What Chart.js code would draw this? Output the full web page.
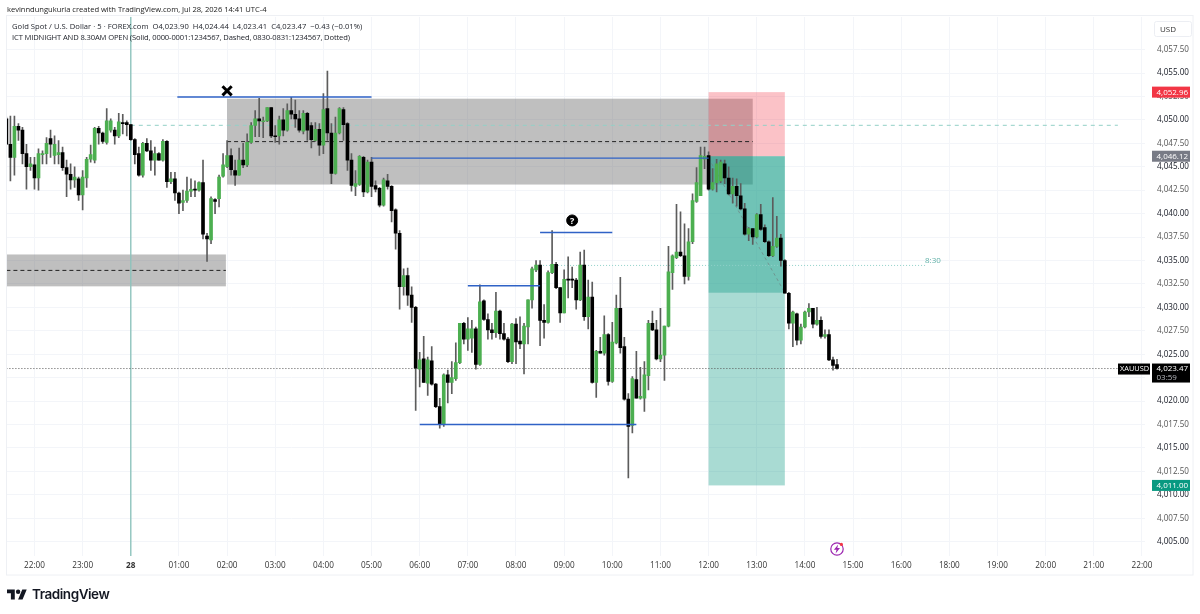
<!DOCTYPE html>
<html>
<head>
<meta charset="utf-8">
<title>XAUUSD 5m</title>
<script src="https://cdn.jsdelivr.net/npm/chart.js@4"></script>
<style>
  html, body { margin: 0; padding: 0; background: #fff; width: 1200px; height: 614px; overflow: hidden; }
  canvas { position: absolute; left: 0; top: 0; }
  .txt { position: absolute; white-space: pre; font-family: "Open Sans", sans-serif; color: #1c1f27; }
  svg { position: absolute; }
</style>
</head>
<body>
<canvas id="gold" width="1200" height="614"></canvas>
<div class="txt" style="left:7px;top:4px;font-size:7.6px;letter-spacing:-.03px;color:#222">kevinndungukuria created with TradingView.com, Jul 28, 2026 14:41 UTC-4</div>
<div class="txt" style="left:12px;top:21px;font-size:7.6px;letter-spacing:.04px">Gold Spot / U.S. Dollar · 5 · FOREX.com  O4,023.90  H4,024.44  L4,023.41  C4,023.47  −0.43 (−0.01%)</div>
<div class="txt" style="left:12px;top:32px;font-size:7.6px;letter-spacing:-.13px">ICT MIDNIGHT AND 8.30AM OPEN (Solid, 0000-0001:1234567, Dashed, 0830-0831:1234567, Dotted)</div>
<svg style="left:7px;top:587px" width="20" height="16" viewBox="0 0 36 28"><path fill="#131722" d="M14 22H7V11H0V4h14v18zM28 22h-8l7.5-18h8L28 22z"/><circle fill="#131722" cx="20" cy="8" r="4"/></svg>
<div class="txt" style="left:32px;top:586px;font-family:Inter,sans-serif;font-weight:600;font-size:13.5px;letter-spacing:-.45px;color:#131722">TradingView</div>
<svg style="left:829px;top:541px" width="16" height="16" viewBox="0 0 16 16"><circle cx="8" cy="8" r="6.2" fill="#fff" stroke="#9c27b0" stroke-width="1.2"/><path fill="#9c27b0" d="M9.2 3.4 4.9 8.8h2.6L6.6 12.6l4.4-5.5H8.3z"/><circle cx="12.4" cy="3.4" r="1.6" fill="#f23645"/></svg>
<script>
// candles, 5 min each. index 0 is the 22:00 bar
const firstBar = -7;
const opens = [
4050.1,4047.4,4046.0,4049.3,4048.9,4046.4,4045.0,4045.2,4043.8,4046.3,
4046.4,4048.0,4046.2,4046.3,4046.5,4044.9,4044.2,4043.6,4043.7,4042.0,
4043.8,4045.8,4045.7,4049.1,4048.6,4047.6,4048.9,4048.9,4048.3,4049.7,
4049.7,4049.5,4047.9,4046.4,4044.1,4047.5,4046.7,4045.7,4046.4,4045.7,
4047.7,4043.4,4043.7,4042.2,4041.2,4041.4,4042.4,4042.6,4042.5,4043.3,
4037.6,4037.2,4041.5,4041.6,4044.0,4045.0,4046.2,4044.6,4044.1,4045.7,
4045.2,4047.6,4049.4,4050.1,4049.8,4049.9,4051.3,4048.3,4048.3,4050.0,
4048.9,4051.0,4050.6,4050.1,4048.8,4050.7,4049.4,4047.8,4049.0,4047.3,
4051.2,4048.6,4044.3,4048.6,4051.1,4049.6,4045.7,4042.9,4043.1,4046.0,
4042.3,4045.5,4043.0,4042.7,4040.9,4043.5,4042.9,4040.4,4037.9,4032.2,
4033.4,4031.3,4030.0,4023.4,4024.5,4021.9,4024.3,4021.8,4019.4,4017.5,
4022.8,4022.0,4022.4,4024.1,4028.3,4026.6,4026.7,4027.7,4023.9,4030.7,
4028.7,4027.6,4027.3,4029.6,4027.2,4026.6,4024.2,4028.2,4026.4,4026.1,
4027.9,4030.8,4034.0,4034.5,4028.6,4028.4,4033.7,4034.6,4032.1,4029.4,
4033.0,4032.9,4032.9,4030.8,4034.5,4029.0,4031.1,4022.0,4025.3,4025.1,
4027.1,4022.1,4026.2,4029.9,4025.8,4020.2,4017.4,4022.3,4020.3,4020.3,
4022.7,4028.3,4027.6,4024.5,4024.9,4028.0,4033.7,4035.3,4035.9,4035.5,
4033.3,4037.0,4041.3,4041.9,4045.8,4046.2,4042.6,4043.3,4043.5,4045.3,
4043.8,4042.1,4042.9,4041.9,4040.5,4037.8,4038.4,4037.5,4039.9,4038.5,
4037.0,4035.5,4036.5,4037.4,4035.0,4031.5,4028.3,4029.3,4026.5,4027.9,
4029.5,4029.9,4028.2,4028.6,4026.9,4027.1,4024.4,4023.90];
const highs = [
4050.3,4050.4,4050.4,4049.6,4049.2,4047.4,4046.0,4046.0,4046.9,4046.7,
4048.1,4048.9,4048.3,4047.8,4047.1,4045.7,4045.3,4045.0,4043.9,4044.6,
4046.0,4047.3,4049.2,4049.3,4048.7,4051.2,4050.1,4049.2,4050.7,4050.6,
4049.9,4049.5,4048.0,4047.1,4047.6,4048.0,4047.8,4047.1,4046.5,4047.9,
4047.8,4044.4,4044.4,4042.3,4042.5,4043.9,4043.7,4043.5,4043.4,4045.7,
4037.9,4041.8,4041.6,4044.1,4046.4,4047.8,4046.9,4045.7,4047.0,4047.5,
4048.5,4049.7,4051.0,4052.3,4050.3,4051.3,4051.3,4049.4,4050.4,4051.2,
4051.7,4052.4,4052.1,4051.0,4051.0,4050.8,4049.7,4049.7,4049.6,4052.8,
4055.2,4049.6,4050.3,4051.3,4051.3,4049.7,4046.4,4044.6,4046.2,4046.1,
4045.7,4046.0,4043.5,4042.8,4043.8,4044.2,4043.0,4040.5,4038.2,4034.1,
4034.2,4032.2,4030.1,4025.2,4026.9,4024.7,4025.8,4021.9,4020.3,4022.9,
4023.3,4024.2,4026.2,4028.3,4028.4,4028.9,4028.6,4027.9,4032.4,4030.8,
4029.3,4028.3,4031.6,4029.7,4028.3,4026.8,4028.3,4028.8,4029.0,4028.3,
4030.8,4034.3,4035.0,4035.0,4030.3,4033.9,4038.2,4034.8,4032.1,4034.0,
4035.4,4034.3,4033.1,4035.9,4036.1,4032.9,4032.7,4025.4,4026.8,4029.1,
4027.2,4028.4,4031.3,4033.2,4026.8,4020.8,4022.6,4025.3,4023.6,4024.2,
4028.6,4029.6,4028.6,4029.9,4028.0,4036.5,4035.6,4041.0,4040.2,4038.9,
4038.4,4042.1,4044.9,4047.1,4047.1,4046.6,4044.8,4045.8,4045.7,4045.7,
4045.0,4043.8,4043.7,4043.2,4041.1,4038.5,4038.4,4040.0,4041.0,4038.8,
4037.1,4041.7,4039.7,4037.8,4035.1,4031.6,4029.6,4029.4,4028.2,4029.6,
4030.4,4029.9,4030.0,4029.0,4027.6,4027.6,4024.7,4024.44];
const lows = [
4047.4,4043.5,4044.1,4047.8,4045.3,4042.6,4044.6,4042.6,4042.5,4045.3,
4045.3,4046.0,4045.3,4045.3,4044.6,4041.8,4042.6,4042.8,4041.4,4040.4,
4042.8,4045.5,4045.4,4047.4,4047.5,4047.4,4048.7,4047.4,4048.1,4048.5,
4048.3,4047.8,4045.3,4044.0,4043.9,4046.6,4044.6,4044.1,4045.7,4045.6,
4042.8,4043.2,4041.4,4040.0,4040.3,4041.2,4041.8,4041.8,4042.4,4037.3,
4034.9,4036.8,4040.0,4040.7,4043.9,4044.9,4044.1,4043.0,4044.1,4044.9,
4045.0,4047.5,4048.2,4048.2,4048.1,4049.8,4048.1,4047.6,4047.4,4048.3,
4048.8,4050.1,4049.2,4048.7,4048.5,4047.8,4047.0,4047.7,4046.2,4046.4,
4047.8,4043.2,4044.2,4048.5,4047.8,4044.6,4042.4,4041.9,4043.0,4041.8,
4042.2,4041.8,4042.3,4040.7,4040.8,4042.6,4039.1,4036.2,4029.8,4031.3,
4030.2,4028.4,4019.0,4021.5,4022.0,4020.6,4021.7,4019.3,4017.1,4017.3,
4019.8,4020.8,4022.2,4024.0,4026.1,4025.4,4025.2,4023.4,4023.8,4028.6,
4026.6,4026.6,4026.8,4026.6,4026.5,4024.1,4024.0,4024.0,4025.6,4022.9,
4026.1,4029.9,4033.8,4025.9,4026.7,4028.3,4033.6,4032.0,4028.4,4029.4,
4031.0,4032.1,4029.8,4030.7,4028.6,4027.7,4021.9,4020.4,4025.1,4024.9,
4021.7,4022.0,4026.1,4025.1,4020.1,4011.8,4016.6,4020.3,4020.2,4018.9,
4021.2,4027.5,4024.4,4024.2,4022.2,4027.9,4031.9,4035.2,4035.4,4032.5,
4032.9,4036.8,4041.2,4041.9,4044.8,4042.5,4042.5,4042.3,4043.3,4043.2,
4042.0,4041.1,4040.8,4040.4,4037.7,4037.1,4036.7,4037.4,4038.2,4036.9,
4035.4,4035.4,4036.4,4034.4,4031.5,4027.7,4025.8,4026.0,4026.1,4027.8,
4029.0,4027.8,4028.1,4026.7,4026.7,4024.3,4023.3,4023.41];
const closes = [
4047.4,4046.0,4049.3,4048.9,4046.4,4045.0,4045.3,4043.8,4046.4,4046.4,
4047.5,4047.4,4047.4,4046.5,4044.9,4044.2,4043.6,4043.9,4042.0,4043.9,
4045.8,4046.3,4049.1,4048.6,4047.7,4049.9,4049.9,4048.3,4049.8,4049.6,
4049.5,4047.9,4046.3,4044.1,4047.5,4046.7,4045.7,4046.4,4045.7,4047.7,
4043.4,4043.7,4042.2,4041.1,4041.4,4042.4,4042.6,4042.5,4043.3,4037.8,
4037.3,4041.6,4041.3,4043.9,4045.2,4046.2,4044.7,4044.1,4045.7,4045.2,
4047.6,4049.4,4050.1,4049.9,4049.9,4051.3,4048.3,4048.2,4050.0,4048.9,
4051.0,4050.6,4050.1,4048.9,4050.7,4048.9,4047.9,4049.0,4047.3,4051.1,
4048.6,4044.3,4048.6,4051.2,4049.5,4045.7,4043.0,4043.2,4046.1,4042.3,
4045.5,4042.9,4042.6,4040.9,4043.6,4042.9,4040.3,4037.9,4032.2,4033.4,
4031.3,4030.0,4023.5,4024.4,4022.0,4024.4,4021.8,4019.4,4017.5,4022.8,
4022.0,4022.5,4024.1,4028.3,4026.6,4027.7,4027.7,4023.9,4030.6,4028.7,
4027.6,4027.3,4029.6,4027.2,4026.6,4024.2,4028.2,4026.3,4026.1,4028.0,
4030.8,4034.1,4034.5,4028.6,4028.4,4033.7,4034.6,4032.1,4029.4,4033.0,
4032.9,4032.9,4030.8,4034.5,4029.0,4031.1,4022.0,4025.3,4025.1,4027.1,
4022.1,4026.3,4029.9,4025.7,4020.2,4017.3,4022.4,4020.3,4020.5,4022.8,
4028.3,4027.6,4024.5,4024.9,4028.0,4033.8,4035.5,4035.9,4035.5,4033.3,
4037.0,4041.4,4043.3,4046.2,4046.1,4042.6,4043.3,4045.3,4045.5,4043.8,
4042.1,4042.9,4041.9,4040.5,4037.8,4038.4,4037.5,4039.9,4038.3,4037.0,
4035.5,4036.5,4037.4,4035.0,4031.5,4028.3,4029.5,4026.5,4027.9,4029.5,
4029.9,4028.2,4028.6,4026.9,4027.1,4024.4,4023.8,4023.47];

// axes
const timeLabels = ["22:00","23:00","28","01:00","02:00","03:00","04:00","05:00","06:00","07:00","08:00","09:00",
  "10:00","11:00","12:00","13:00","14:00","15:00","16:00","18:00","19:00","20:00","21:00","22:00"];
const barsPerLabel = 12;
const priceTicks = [4005,4007.5,4010,4012.5,4015,4017.5,4020,4022.5,4025,4027.5,4030,4032.5,4035,4037.5,4040,4042.5,
  4045,4047.5,4050,4052.5,4055,4057.5];
const xMin = -6.85, xMax = 276.76;
const yMin = 4003.47, yMax = 4060.99;

// drawings on the chart, in bar index / price
const lastPrice = 4023.47, stopPrice = 4052.96, entryPrice = 4046.12, targetPrice = 4011.00;
const grayZoneFrom = [-7, 48], grayZoneTo = [47.7, 179];
const grayZoneTop = [4035.64, 4052.26], grayZoneBottom = [4032.24, 4043.10];
const tradeFrom = 168, tradeTo = 187, tradeLevel = 4031.56;
const blueFrom = [35.6, 84, 126, 108, 96], blueTo = [84, 168, 144, 126, 150];
const blueLevel = [4052.44, 4045.92, 4037.99, 4032.31, 4017.50];
const midFrom = [-7, 48], midTo = [47.7, 179], midLevel = [4033.94, 4047.68];
const midnightBar = 24, rightEnd = 270;
const openDashLevel = 4049.42, level830 = 4034.47, from830 = 126, to830 = 222;

function seg(x0, x1, y0, y1) { return [{x: x0, y: y0}, {x: x1, y: y1}]; }
function lineSet(data, color, width, dash, order) {
  return {type: 'line', data, borderColor: color, borderWidth: width, borderDash: dash, pointRadius: 0, order, tension: 0};
}

var wicks = [], bodies = [], bodyColors = [];
for (var k = 0; k < opens.length; k++) {
  wicks.push({x: firstBar + k, y: [lows[k], highs[k]]});
  bodies.push({x: firstBar + k, y: [Math.min(opens[k], closes[k]), Math.max(opens[k], closes[k])]});
  bodyColors.push(closes[k] > opens[k] ? '#4caf50' : '#000');
}

var datasets = [
  {data: wicks, backgroundColor: '#5c5c5c', barThickness: 1, grouped: false, order: 3, minBarLength: 1},
  {data: bodies, backgroundColor: bodyColors, barThickness: 3, grouped: false, order: 2, minBarLength: 1},
  lineSet(seg(midnightBar, midnightBar, yMin, yMax), '#8fc3bd', 1.4, [], 6),
  lineSet(seg(midnightBar, rightEnd, openDashLevel, openDashLevel), '#93d0c7', 1, [4, 4], 5),
  lineSet(seg(from830, to830, level830, level830), '#8fd0c8', 1, [1, 2], 5),
  lineSet(seg(firstBar, rightEnd, lastPrice, lastPrice), '#555', 1, [1, 2], 5),
  lineSet(seg(tradeFrom, tradeTo, 4045.9, tradeLevel), 'rgba(110,120,120,.6)', 1, [3, 3], 4)
];
midLevel.forEach((lv, n) => datasets.push(lineSet(seg(midFrom[n], midTo[n], lv, lv), '#222', 1, [4, 3], 4)));
blueLevel.forEach((lv, n) => datasets.push(lineSet(seg(blueFrom[n], blueTo[n], lv, lv), '#2f62c6', 1.4, [], 1)));
datasets.push({type: 'line', data: [{x: 48, y: 4053.1}], showLine: false, pointStyle: 'crossRot', pointRadius: 6.5,
  pointBorderWidth: 3, pointBorderColor: '#000', order: 0});
datasets.push({type: 'line', data: [{x: 134, y: 4039.27}], showLine: false, pointStyle: 'circle', pointRadius: 5.5,
  pointBackgroundColor: '#000', pointBorderColor: '#000', order: 0});

function box(c, s, x0, x1, p0, p1, color) {
  var l = s.x.getPixelForValue(x0), r = s.x.getPixelForValue(x1);
  var t = s.y.getPixelForValue(p0), b = s.y.getPixelForValue(p1);
  c.fillStyle = color;
  c.fillRect(l, t, r - l, b - t);
}

function tag(c, x, y, w, h, color, label, fg, font) {
  c.fillStyle = color;
  c.fillRect(x, y - h / 2, w, h);
  c.fillStyle = fg;
  c.font = font;
  c.textAlign = 'left';
  c.textBaseline = 'middle';
  c.fillText(label, x + 4.5, y + .5);
}

const zones = {
  id: 'zones',
  beforeDatasetsDraw(chart) {
    var c = chart.ctx, s = chart.scales;
    grayZoneTop.forEach((t, n) => box(c, s, grayZoneFrom[n], grayZoneTo[n], t, grayZoneBottom[n], 'rgba(110,110,110,.44)'));
    box(c, s, tradeFrom, tradeTo, stopPrice, entryPrice, 'rgba(242,54,69,.3)');
    box(c, s, tradeFrom, tradeTo, entryPrice, targetPrice, 'rgba(8,153,129,.35)');
    box(c, s, tradeFrom, tradeTo, entryPrice, tradeLevel, 'rgba(8,153,129,.35)');
  },
  afterDraw(chart) {
    var c = chart.ctx, s = chart.scales, f = '500 8px "Open Sans"';
    // frame
    c.strokeStyle = '#eef0f4';
    c.lineWidth = 1;
    c.strokeRect(6.5, 15.5, 1186.5, 559.5);
    // question mark, 8:30 label
    c.fillStyle = '#fff';
    c.font = 'bold 9px "Open Sans"';
    c.textAlign = 'center';
    c.textBaseline = 'middle';
    c.fillText('?', s.x.getPixelForValue(134), s.y.getPixelForValue(4039.27) + .5);
    c.fillStyle = '#5fb0a7';
    c.font = '8px "Open Sans"';
    c.fillText('8:30', s.x.getPixelForValue(223.9), s.y.getPixelForValue(4035));
    // USD button
    c.fillStyle = '#fff';
    c.strokeStyle = '#eceef3';
    c.beginPath();
    c.roundRect(1154.5, 21.5, 37, 15, 2);
    c.fill();
    c.stroke();
    c.fillStyle = '#333';
    c.font = '8px "Open Sans"';
    c.textAlign = 'left';
    c.fillText('USD', 1160, 29.5);
    // price tags
    var ty = v => s.y.getPixelForValue(v);
    tag(c, 1152, ty(stopPrice), 38, 11, '#f23645', '4,052.96', '#fff', f);
    tag(c, 1152, ty(entryPrice), 38, 11, '#787b86', '4,046.12', '#fff', f);
    tag(c, 1152, ty(targetPrice), 38, 11, '#089981', '4,011.00', '#fff', f);
    c.fillStyle = '#000';
    c.fillRect(1152, ty(lastPrice) - 5, 38, 19);
    c.fillRect(1118, ty(lastPrice) - 5, 32, 11);
    c.fillStyle = '#fff';
    c.font = f;
    c.textAlign = 'left';
    c.fillText('4,023.47', 1156.5, ty(lastPrice) + .5);
    c.font = '500 7.4px "Open Sans"';
    c.fillText('XAUUSD', 1120, ty(lastPrice) + .5);
    c.fillStyle = '#b8bac0';
    c.font = '8px "Open Sans"';
    c.fillText('03:59', 1156.5, ty(lastPrice) + 9.5);
  }
};

new Chart('gold', {
  type: 'bar',
  data: {datasets},
  plugins: [zones],
  options: {
    responsive: false,
    animation: false,
    layout: {autoPadding: false, padding: {left: 7, top: 16, right: 7, bottom: 39}},
    plugins: {legend: {display: false}, tooltip: {enabled: false}},
    scales: {
      x: {
        type: 'linear', min: xMin, max: xMax, offset: false,
        grid: {color: '#f3f5f9', drawTicks: false, offset: false},
        border: {display: false},
        afterBuildTicks: a => { a.ticks = timeLabels.map((_, n) => ({value: n * barsPerLabel})); },
        afterFit: a => { a.height = 19; },
        ticks: {
          autoSkip: false, maxRotation: 0, padding: 5, color: '#333',
          font: ctx => ({family: 'Open Sans', size: 8.2, weight: ctx.index === 2 ? '700' : '400'}),
          callback: v => timeLabels[Math.round(v / barsPerLabel)]
        }
      },
      y: {
        position: 'right', min: yMin, max: yMax,
        grid: {color: '#f3f5f9', drawTicks: false},
        border: {display: false},
        afterBuildTicks: a => { a.ticks = priceTicks.map(v => ({value: v})); },
        afterFit: a => { a.width = 48; },
        ticks: {
          padding: 12, autoSkip: false, crossAlign: 'near',
          color: ctx => ctx.tick.value % 5 === 0 ? '#131722' : '#555',
          font: {family: 'Open Sans', size: 8.1},
          callback: v => v.toLocaleString('en-US', {minimumFractionDigits: 2})
        }
      }
    }
  }
});
</script>
</body>
</html>
